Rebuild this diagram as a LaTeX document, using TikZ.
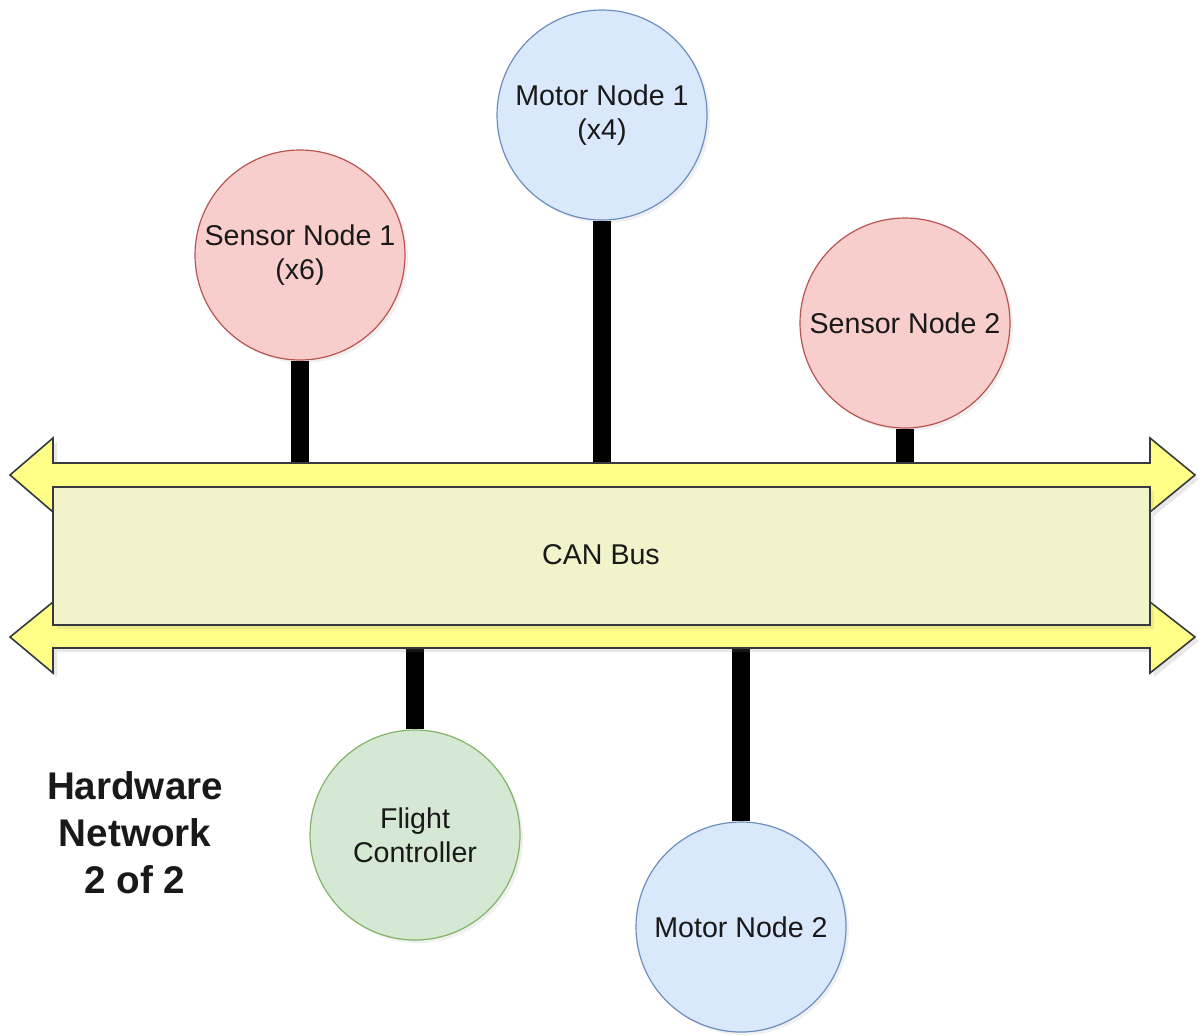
\documentclass[tikz,border=0pt]{standalone}
\usepackage{fontspec}
\setmainfont{Liberation Sans}
\usepackage{xcolor}
\usepackage{tikz}
\usetikzlibrary{positioning,shadows}
\definecolor{redfill}{HTML}{F8CECC}
\definecolor{redline}{HTML}{B85450}
\definecolor{bluefill}{HTML}{DAE8FC}
\definecolor{blueline}{HTML}{6C8EBF}
\definecolor{greenfill}{HTML}{D5E8D4}
\definecolor{greenline}{HTML}{82B366}
\definecolor{busfill}{HTML}{F2F2CB}
\definecolor{arrowfill}{HTML}{FFFF88}
\definecolor{arrowline}{HTML}{36393D}
\tikzset{
  unit/.style={circle, minimum size=105pt, inner sep=0pt, align=center,
    font=\fontsize{14.3}{17}\selectfont, text=black!90, line width=0.6pt,
    drop shadow={shadow xshift=1.5pt, shadow yshift=-1.5pt, opacity=0.12}},
  link/.style={line width=9pt, draw=black}
}

\begin{document}
\begin{tikzpicture}[
    x=0.5pt, y=-0.5pt,
    sensor/.style={unit, fill=redfill, draw=redline},
    motor/.style={unit, fill=bluefill, draw=blueline},
    control/.style={unit, fill=greenfill, draw=greenline},
    busarrow/.style={fill=arrowfill, draw=arrowline, line width=0.8pt, line join=miter,
      drop shadow={shadow xshift=2pt, shadow yshift=-2pt, opacity=0.18}},
    busbox/.style={fill=busfill, draw=arrowline, line width=0.6pt,
      drop shadow={shadow xshift=2pt, shadow yshift=-2pt, opacity=0.15}}
  ]
  \useasboundingbox (0,0) rectangle (1202,1035);

  % nodes on the bus
  \node[sensor]  (sens1)  at (300,255) {Sensor Node 1\\(x6)};
  \node[motor]   (motor1) at (602,115) {Motor Node 1\\(x4)};
  \node[sensor]  (sens2)  at (905,323) {Sensor Node 2};
  \node[control] (fc)     at (415,835) {Flight\\Controller};
  \node[motor]   (motor2) at (741,927) {Motor Node 2};

  % bus edges
  \coordinate (bustop) at (0,463);
  \coordinate (busbot) at (0,648);

  % drops to the bus
  \draw[link] (sens1.south)  -- (sens1.south |- bustop);
  \draw[link] (motor1.south) -- (motor1.south |- bustop);
  \draw[link] (sens2.south)  -- (sens2.south |- bustop);
  \draw[link] (fc.north)     -- (fc.north |- busbot);
  \draw[link] (motor2.north) -- (motor2.north |- busbot);

  % double arrows and bus body
  \draw[busarrow] (10,475) -- (53,438) -- (53,463) -- (1150,463) -- (1150,438)
    -- (1195,475) -- (1150,512) -- (1150,487) -- (53,487) -- (53,512) -- cycle;
  \draw[busarrow] (10,637) -- (53,602) -- (53,625) -- (1150,625) -- (1150,602)
    -- (1195,637) -- (1150,673) -- (1150,648) -- (53,648) -- (53,673) -- cycle;
  \draw[busbox] (53,487) rectangle (1150,625);
  \node[font=\fontsize{14.3}{17}\selectfont, text=black!90] (bus) at (601,555) {CAN Bus};

  % caption
  \node[align=center, font=\fontsize{19.3}{23.5}\selectfont\bfseries, text=black!90]
    (title) at (135,833) {Hardware\\Network\\2 of 2};
\end{tikzpicture}
\end{document}
